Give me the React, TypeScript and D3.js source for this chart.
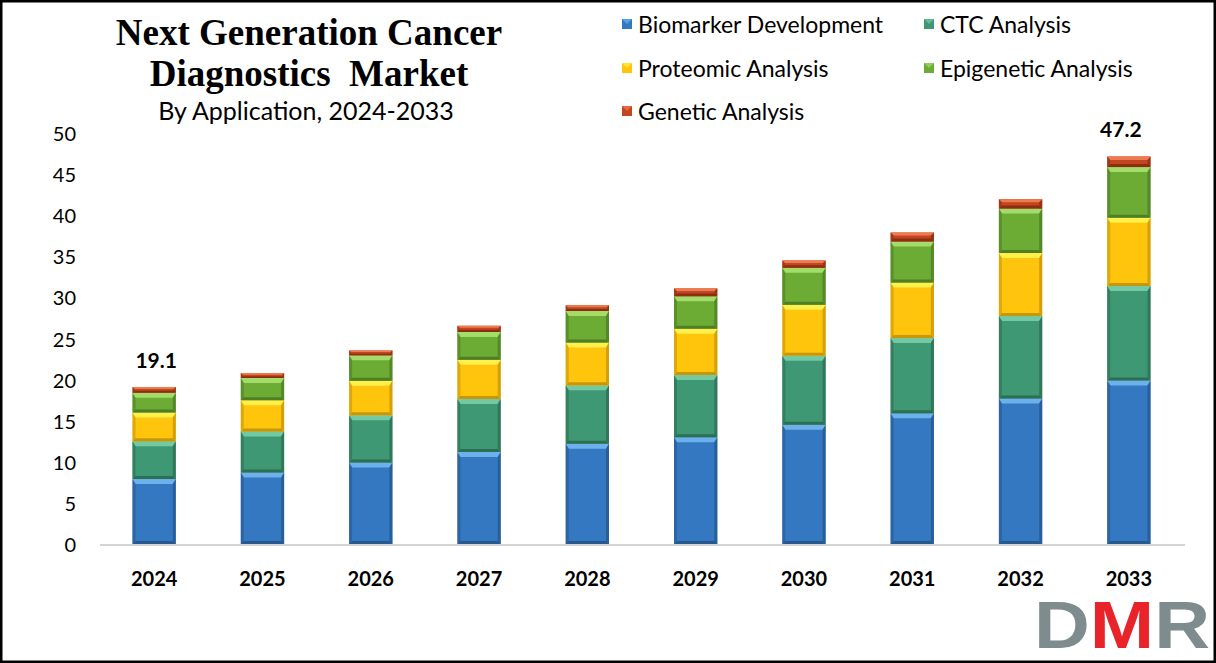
import React from "react";
import * as d3 from "d3";

const years = ["2024", "2025", "2026", "2027", "2028", "2029", "2030", "2031", "2032", "2033"];
const biomarker = [7.9, 8.7, 9.9, 11.2, 12.2, 13.0, 14.5, 15.9, 17.7, 19.9];
const ctc = [4.6, 5.0, 5.75, 6.45, 7.1, 7.55, 8.4, 9.15, 10.05, 11.5];
const proteomic = [3.5, 3.8, 4.2, 4.75, 5.2, 5.65, 6.2, 6.75, 7.65, 8.3];
const epigenetic = [2.4, 2.7, 3.1, 3.4, 3.85, 3.95, 4.5, 5.0, 5.4, 6.15];
const genetic = [0.7, 0.6, 0.6, 0.75, 0.7, 0.95, 0.9, 1.1, 1.15, 1.3];
const seriesNames = ["Biomarker Development", "CTC Analysis", "Proteomic Analysis", "Epigenetic Analysis", "Genetic Analysis"];
const yTicks = [0, 5, 10, 15, 20, 25, 30, 35, 40, 45, 50];
const totalLabels = [
  { year: "2024", text: "19.1" },
  { year: "2033", text: "47.2" },
];

const colors = ["#3478c1", "#3e9874", "#ffc40c", "#6cab34", "#c2461f"];
const lightColors = ["#6cb0ec", "#72c9a2", "#fff04a", "#a4dc6a", "#f07a50"];
const darkColors = ["#27598f", "#2d6f55", "#c8960a", "#4f7f25", "#8a2f12"];

const W = 1216;
const H = 663;

export default function App() {
  const x = d3.scaleBand<string>().domain(years).range([100, 1183]).paddingInner(0.6).paddingOuter(0.3);
  const y = d3.scaleLinear().domain([0, 50]).range([544, 133]);
  const rows = years.map((yr, i) => ({
    year: yr,
    s0: biomarker[i],
    s1: ctc[i],
    s2: proteomic[i],
    s3: epigenetic[i],
    s4: genetic[i],
  }));
  const stack = d3.stack<any>().keys(["s0", "s1", "s2", "s3", "s4"]);
  const layers = stack(rows);
  const bw = x.bandwidth();

  const legendPos = [
    { x: 622, y: 24 },
    { x: 924, y: 24 },
    { x: 622, y: 68 },
    { x: 924, y: 68 },
    { x: 622, y: 111 },
  ];
  const labelFont = "Lato, 'Open Sans', sans-serif";

  return (
    <div style={{ position: "absolute", left: 0, top: 0 }}>
      <svg width={W} height={H} style={{ display: "block", background: "#fff" }}>
        <rect x={0} y={0} width={W} height={H} fill="#fff" />
        {/* title */}
        <text x={309} y={45} textAnchor="middle" fontFamily="'Liberation Serif', 'Times New Roman', serif" fontWeight="bold" fontSize={37} fill="#000">
          Next Generation Cancer
        </text>
        <text x={309} y={86} textAnchor="middle" fontFamily="'Liberation Serif', 'Times New Roman', serif" fontWeight="bold" fontSize={37} fill="#000" style={{ whiteSpace: "pre" }}>
          {"Diagnostics  Market"}
        </text>
        <text x={306} y={120} textAnchor="middle" fontFamily={labelFont} fontSize={25} fill="#000">
          By Application, 2024-2033
        </text>

        {/* legend */}
        {seriesNames.map((n, i) => (
          <g key={n}>
            <rect x={legendPos[i].x} y={legendPos[i].y - 5} width={10} height={10} fill={colors[i]} />
            <polygon
              points={`${legendPos[i].x},${legendPos[i].y - 5} ${legendPos[i].x + 10},${legendPos[i].y - 5} ${legendPos[i].x + 5},${legendPos[i].y}`}
              fill={lightColors[i]}
              opacity={0.7}
            />
            <text x={legendPos[i].x + 16} y={legendPos[i].y} dominantBaseline="central" fontFamily={labelFont} fontSize={23} fill="#000">
              {n}
            </text>
          </g>
        ))}

        {/* y axis labels */}
        {yTicks.map((t) => (
          <text key={t} x={76} y={y(t)} textAnchor="end" dominantBaseline="central" fontFamily={labelFont} fontSize={20} fill="#000">
            {t}
          </text>
        ))}

        {/* baseline */}
        <line x1={100} x2={1185} y1={y(0) + 1} y2={y(0) + 1} stroke="#d4d4d4" strokeWidth={2} />

        {/* bars */}
        {layers.map((layer, li) => (
          <g key={li}>
            {layer.map((d: any) => {
              const x0 = x(d.data.year)!;
              const y0 = y(d[1]);
              const h = y(d[0]) - y(d[1]);
              const b = Math.min(3, h / 3);
              const tb = Math.min(5, h / 3);
              return (
                <g key={d.data.year}>
                  <rect x={x0} y={y0} width={bw} height={h} fill={colors[li]} />
                  <polygon
                    points={`${x0},${y0} ${x0 + bw},${y0} ${x0 + bw - b},${y0 + tb} ${x0 + b},${y0 + tb}`}
                    fill={lightColors[li]}
                  />
                  <polygon
                    points={`${x0},${y0} ${x0 + b},${y0 + tb} ${x0 + b},${y0 + h - b} ${x0},${y0 + h}`}
                    fill={darkColors[li]}
                    opacity={0.6}
                  />
                  <polygon
                    points={`${x0 + bw},${y0} ${x0 + bw - b},${y0 + tb} ${x0 + bw - b},${y0 + h - b} ${x0 + bw},${y0 + h}`}
                    fill={darkColors[li]}
                    opacity={0.8}
                  />
                  <polygon
                    points={`${x0},${y0 + h} ${x0 + b},${y0 + h - b} ${x0 + bw - b},${y0 + h - b} ${x0 + bw},${y0 + h}`}
                    fill={darkColors[li]}
                  />
                </g>
              );
            })}
          </g>
        ))}

        {/* x labels */}
        {years.map((yr) => (
          <text key={yr} x={x(yr)! + bw / 2} y={578} textAnchor="middle" dominantBaseline="central" fontFamily={labelFont} fontWeight="bold" fontSize={20} fill="#000">
            {yr}
          </text>
        ))}

        {/* total labels */}
        {totalLabels.map((l, i) => {
          const idx = years.indexOf(l.year);
          const tot = biomarker[idx] + ctc[idx] + proteomic[idx] + epigenetic[idx] + genetic[idx];
          return (
            <text
              key={l.year}
              x={x(l.year)! + bw / 2 + (i === 0 ? 2 : -8)}
              y={y(tot) - 19}
              textAnchor="middle"
              fontFamily={labelFont}
              fontWeight="bold"
              fontSize={21}
              fill="#000"
            >
              {l.text}
            </text>
          );
        })}

        {/* logo */}
        <text
          x={1034}
          y={648}
          fontFamily="'Liberation Sans', Arial, sans-serif"
          fontWeight="bold"
          fontSize={66}
          textLength={176}
          lengthAdjust="spacingAndGlyphs"
          fill="#7f8c8d"
        >
          <tspan fill="#7f8c8d">D</tspan>
          <tspan fill="#e8232a">M</tspan>
          <tspan fill="#7f8c8d">R</tspan>
        </text>

        {/* frame */}
        <rect x={1} y={1} width={W - 2} height={H - 2} fill="none" stroke="#000" strokeWidth={3} />
      </svg>
    </div>
  );
}
